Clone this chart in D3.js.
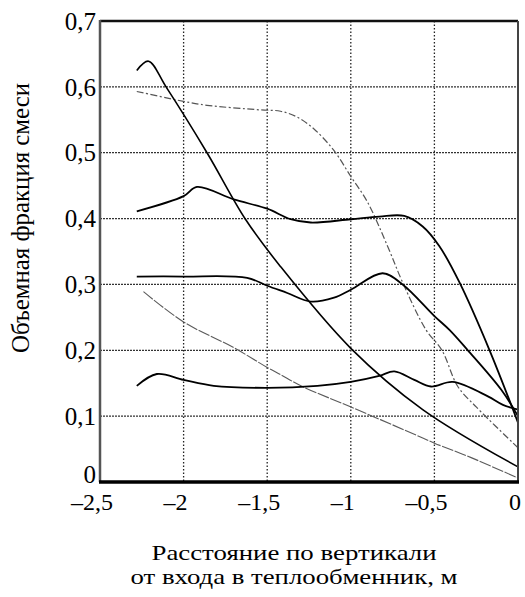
<!DOCTYPE html>
<html><head><meta charset="utf-8">
<script src="https://cdn.jsdelivr.net/npm/d3@7"></script>
<style>
body{margin:0;background:#fff;}
svg text{font-family:"Liberation Serif","Times New Roman",Tinos,"Noto Serif","DejaVu Serif",serif;}
</style></head>
<body><svg id="c" width="525" height="597"></svg>
<script>
const xTicks = [-2.5, -2, -1.5, -1, -0.5, 0];
const yTicks = [0, 0.1, 0.2, 0.3, 0.4, 0.5, 0.6, 0.7];
const xTitle = ["Расстояние по вертикали", "от входа в теплообменник, м"];
const yTitle = "Объемная фракция смеси";

// steep solid curve
const curveA = [[-2.28,0.625],[-2.21,0.639],[-2.105,0.6],[-1.86,0.50],[-1.63,0.399],[-1.42,0.327],[-1.0,0.203],[-0.57,0.11],[0,0.023]];
// dash-dot curve
const curveB = [[-2.28,0.593],[-2.0,0.578],[-1.86,0.572],[-1.54,0.565],[-1.42,0.563],[-1.32,0.554],[-1.22,0.536],[-1.10,0.503],[-1.0,0.464],[-0.9,0.425],[-0.78,0.358],[-0.69,0.303],[-0.55,0.231],[-0.455,0.2],[-0.36,0.145],[-0.25,0.114],[0,0.052]];
// solid curve around 0.4
const curveC = [[-2.28,0.411],[-2.0,0.434],[-1.92,0.448],[-1.70,0.429],[-1.5,0.415],[-1.36,0.399],[-1.24,0.394],[-1.0,0.399],[-0.83,0.403],[-0.68,0.404],[-0.57,0.388],[-0.47,0.358],[-0.35,0.303],[-0.17,0.2],[0,0.09]];
// solid curve around 0.3
const curveD = [[-2.28,0.312],[-2.0,0.312],[-1.62,0.31],[-1.5,0.298],[-1.38,0.287],[-1.24,0.274],[-1.1,0.28],[-1.0,0.292],[-0.81,0.317],[-0.69,0.3],[-0.5,0.252],[-0.41,0.231],[-0.30,0.2],[-0.1,0.14],[0,0.1]];
// solid curve around 0.15
const curveE = [[-2.28,0.146],[-2.16,0.164],[-2.0,0.155],[-1.82,0.146],[-1.5,0.143],[-1.2,0.146],[-1.0,0.152],[-0.83,0.161],[-0.74,0.168],[-0.62,0.155],[-0.52,0.145],[-0.39,0.152],[-0.18,0.13],[-0.09,0.117],[0,0.11]];
// thin gray curve
const curveF = [[-2.24,0.289],[-2.0,0.243],[-1.7,0.204],[-1.5,0.174],[-1.42,0.163],[-1.29,0.145],[-1.0,0.114],[-0.58,0.068],[-0.5,0.059],[-0.28,0.037],[0,0.006]];

const svg = d3.select("#c");
const x = d3.scaleLinear().domain([-2.5, 0]).range([100, 518]);
const y = d3.scaleLinear().domain([0, 0.7]).range([482, 21]);
const fmt = v => (v < 0 ? "\u2013" : "") + String(Math.abs(v)).replace(".", ",");

// grid
const g = svg.append("g");
g.selectAll(".vg").data(xTicks.slice(1, -1)).enter().append("line")
  .attr("x1", d => x(d)).attr("x2", d => x(d)).attr("y1", y(0.7)).attr("y2", y(0))
  .attr("stroke", "#222").attr("stroke-width", 1.3).attr("stroke-dasharray", "1.5,2");
g.selectAll(".hg").data(yTicks.slice(1, -1)).enter().append("line")
  .attr("x1", x(-2.5)).attr("x2", x(0)).attr("y1", d => y(d)).attr("y2", d => y(d))
  .attr("stroke", "#333").attr("stroke-width", 1.3).attr("stroke-dasharray", "2,1");

const line = d3.line().x(d => x(d[0])).y(d => y(d[1])).curve(d3.curveCatmullRom.alpha(0.5));
const series = [
  {d: curveF, c: "#5a5a5a", w: 1.1, dash: "12,1.5"},
  {d: curveB, c: "#555", w: 1.2, dash: "7,2.5,2,2.5"},
  {d: curveE, c: "#000", w: 1.8, dash: null},
  {d: curveD, c: "#000", w: 1.8, dash: null},
  {d: curveC, c: "#000", w: 1.8, dash: null},
  {d: curveA, c: "#000", w: 1.6, dash: null}
];
svg.selectAll(".s").data(series).enter().append("path")
  .attr("d", s => line(s.d)).attr("fill", "none")
  .attr("stroke", s => s.c).attr("stroke-width", s => s.w)
  .attr("stroke-dasharray", s => s.dash);

// frame
svg.append("line").attr("x1", x(-2.5)).attr("x2", x(0)).attr("y1", y(0.7)).attr("y2", y(0.7)).attr("stroke", "#111").attr("stroke-width", 2.5);
svg.append("line").attr("x1", x(0)).attr("x2", x(0)).attr("y1", y(0.7)).attr("y2", y(0)).attr("stroke", "#444").attr("stroke-width", 2);
svg.append("line").attr("x1", x(-2.5)).attr("x2", x(-2.5)).attr("y1", y(0.7)-1).attr("y2", y(0)).attr("stroke", "#555").attr("stroke-width", 2.5);
svg.append("line").attr("x1", x(-2.5)-1).attr("x2", x(0)+1).attr("y1", y(0)).attr("y2", y(0)).attr("stroke", "#000").attr("stroke-width", 3.5);

// tick labels
svg.selectAll(".xl").data(xTicks).enter().append("text")
  .attr("x", d => x(d)).attr("y", 510).attr("text-anchor", "middle")
  .attr("dx", d => d < 0 ? -8 : -3)
  .attr("font-size", 24).text(fmt);
svg.selectAll(".yl").data(yTicks).enter().append("text")
  .attr("x", 96).attr("y", d => y(d)).attr("text-anchor", "end")
  .attr("dy", d => d === 0 ? "0.05em" : "0.35em")
  .attr("font-size", 25).text(fmt);

// titles
const titleLen = [285, 327];
svg.selectAll(".xt").data(xTitle).enter().append("text")
  .attr("x", 294).attr("y", (d, i) => 560 + i * 24).attr("text-anchor", "middle")
  .attr("font-size", 22)
  .attr("textLength", (d, i) => titleLen[i]).attr("lengthAdjust", "spacingAndGlyphs")
  .text(d => d);
svg.append("text").attr("transform", "translate(29,218) rotate(-90)")
  .attr("text-anchor", "middle").attr("font-size", 25)
  .attr("textLength", 270).attr("lengthAdjust", "spacingAndGlyphs")
  .text(yTitle);
</script></body></html>
